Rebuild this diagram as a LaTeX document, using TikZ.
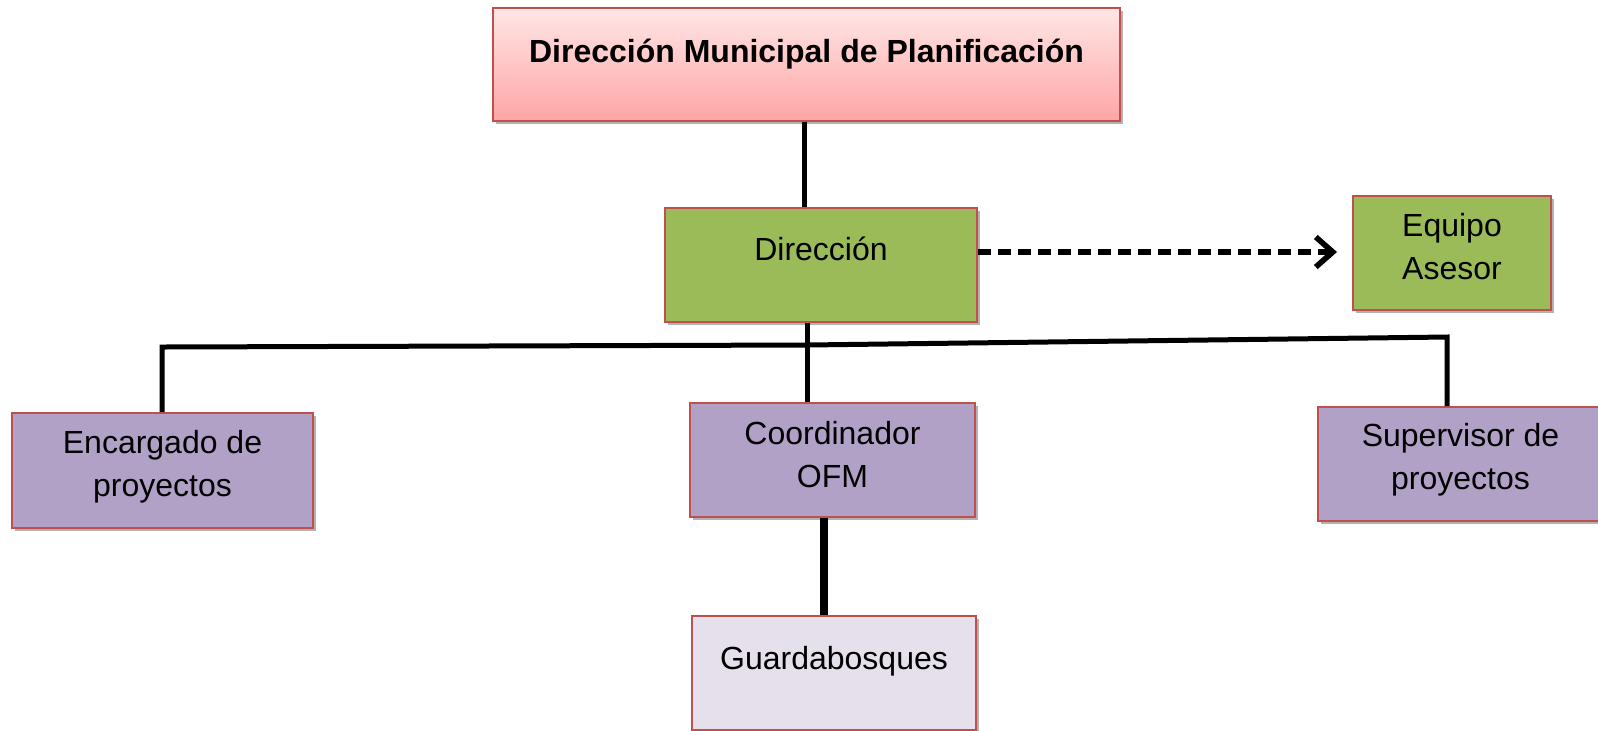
\documentclass[tikz,border=0pt]{standalone}
\usepackage{fontspec}
\setmainfont{Liberation Sans}
\usetikzlibrary{arrows.meta,shadows}
\definecolor{boxred}{HTML}{C0504D}
\definecolor{boxgreen}{HTML}{9BBB59}
\definecolor{boxpurple}{HTML}{B2A1C7}
\definecolor{boxlav}{HTML}{E5E0EC}
\definecolor{pinktop}{HTML}{FFE6E6}
\definecolor{pinkbot}{HTML}{FFA5A5}
\newcommand\orgfs{\fontsize{16}{21.5}\selectfont}
\begin{document}
\begin{tikzpicture}[x=0.5pt,y=-0.5pt,
  box/.style={draw=boxred, line width=1pt, inner sep=0pt, anchor=north west,
    font=\orgfs, align=center,
    drop shadow={shadow xshift=1.5pt, shadow yshift=-1.5pt, fill=black, opacity=0.3}},
  conn/.style={line width=2.5pt, black},
  thickconn/.style={line width=4pt, black},
  dasharrow/.style={line width=2.6pt, black, dash pattern=on 6.5pt off 3.5pt,
    -{Straight Barb[length=8.5pt,width=15pt,line width=2.8pt]}}]
\useasboundingbox (0,0) rectangle (1598,730);
\fill[white] (0,0) rectangle (1598,730);

\node[box, top color=pinktop, bottom color=pinkbot, font={\orgfs\bfseries},
  text height=18.75pt, text depth=21.25pt,
  minimum width=313.5pt, minimum height=56.5pt] (top) at (492,7)
  {Dirección Municipal de Planificación};
\node[box, fill=boxgreen, text height=17.5pt, text depth=22.5pt,
  minimum width=156pt, minimum height=57pt] (dir) at (664,207) {Dirección};
\node[box, fill=boxgreen, text height=33pt, text depth=7pt,
  minimum width=99pt, minimum height=57pt] (eq) at (1352,195) {Equipo\\Asesor};
\node[box, fill=boxpurple, text height=32.75pt, text depth=7.25pt,
  minimum width=150.5pt, minimum height=57.5pt] (enc) at (11,412) {Encargado de\\proyectos};
\node[box, fill=boxpurple, text height=33.5pt, text depth=6.5pt,
  minimum width=142.5pt, minimum height=57pt] (coord) at (689,402) {Coordinador\\OFM};
\node[box, fill=boxpurple, text height=32.5pt, text depth=7.5pt,
  minimum width=142.5pt, minimum height=57pt] (sup) at (1317,406) {Supervisor de\\proyectos};
\node[box, fill=boxlav, text height=18pt, text depth=22pt,
  minimum width=142pt, minimum height=57pt] (guard) at (691,615) {Guardabosques};

\coordinate (tx) at (804,0);
\coordinate (mx) at (807,0);
\coordinate (gx) at (824,0);
\coordinate (ay) at (0,252);
\coordinate (bl) at (162,347);
\coordinate (bm) at (807,345);
\coordinate (br) at (1447,337);

\draw[conn] (top.south -| tx) -- (dir.north -| tx);
\draw[conn] (dir.south -| mx) -- (coord.north -| mx);
\draw[conn] (enc.north -| bl) -- (bl) -- (bm) -- (br) -- (sup.north -| br);
\draw[thickconn] (coord.south -| gx) -- (guard.north -| gx);
\draw[dasharrow, shorten >=7.5pt] (dir.east |- ay) -- (eq.west |- ay);
\end{tikzpicture}
\end{document}
